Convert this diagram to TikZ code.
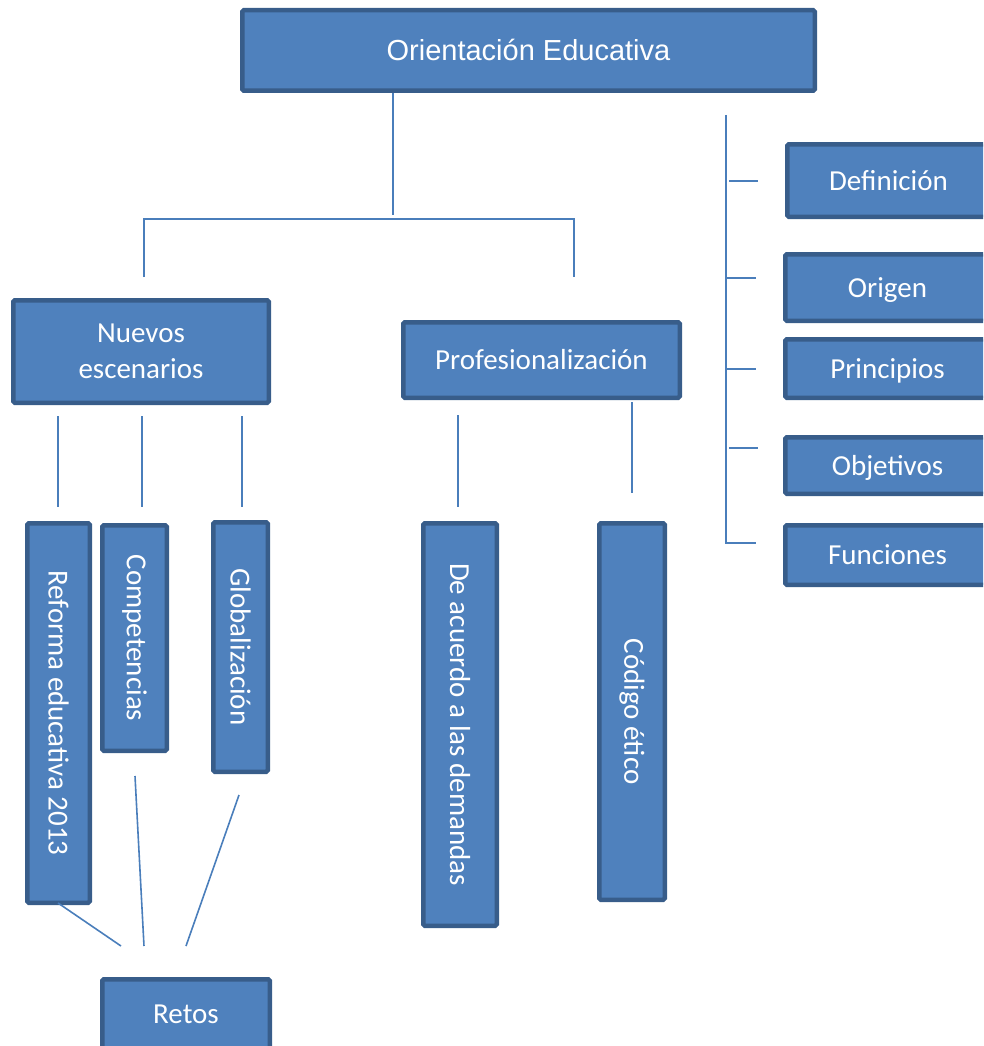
\documentclass[tikz,border=0pt]{standalone}
\usepackage{fontspec}
\setmainfont{Carlito}
\newfontfamily\arialfont{Liberation Sans}
\definecolor{boxfill}{HTML}{4F81BD}
\definecolor{boxline}{HTML}{385D8A}
\definecolor{conn}{HTML}{4A7EBB}
\tikzset{
  box/.style={draw=boxline, fill=boxfill, line width=4.5pt, rounded corners=1.5pt,
    text=white, align=center, inner sep=0pt, font=\fontsize{29}{36}\selectfont},
  oneline/.style={text height=19pt, text depth=0pt},
  conline/.style={draw=conn, line width=1.6pt}
}
\newcommand\mybox[7]{%
  \pgfmathsetmacro\bcx{(#3+#5)/2}%
  \pgfmathsetmacro\bcy{(#4+#6)/2}%
  \pgfmathsetmacro\bw{#5-#3-4.5}%
  \pgfmathsetmacro\bh{#6-#4-4.5}%
  \node[box,#1,minimum width=\bw pt,minimum height=\bh pt] (#2) at (\bcx,\bcy) {#7};}
\begin{document}
\begin{tikzpicture}[x=1pt,y=-1pt]
\useasboundingbox (0,0) rectangle (983,1046);
\clip (0,0) rectangle (983,1046);
% boxes
\mybox{font=\arialfont\fontsize{29}{36}\selectfont,text height=20pt,text depth=0pt}{title}{240}{8}{817}{93}{Orientación Educativa}
\mybox{oneline}{def}{785}{142}{992}{219}{Definición}
\mybox{oneline}{ori}{783}{252}{992}{323}{Origen}
\mybox{oneline}{pri}{783}{337}{992}{400}{Principios}
\mybox{oneline}{obj}{783}{435}{992}{496}{Objetivos}
\mybox{oneline}{fun}{783}{523}{992}{587}{Funciones}
\mybox{}{nue}{11}{298}{271}{405}{Nuevos\\escenarios}
\mybox{oneline}{pro}{401}{320}{682}{400}{Profesionalización}
\mybox{}{ref}{25}{521}{92}{905}{\rotatebox{-90}{Reforma educativa 2013}}
\mybox{}{com}{100}{523}{169}{753}{\rotatebox{-90}{Competencias}}
\mybox{}{glo}{211}{520}{270}{774}{\rotatebox{-90}{Globalización}}
\mybox{}{dea}{421}{521}{499}{928}{\rotatebox{-90}{De acuerdo a las demandas}}
\mybox{}{cod}{597}{521}{667}{902}{\rotatebox{-90}{Código ético}}
\mybox{oneline}{ret}{100}{977}{272}{1051}{Retos}
% coordinates for connector ends
\coordinate (t1) at (393,93);
\coordinate (t2) at (393,215);
\coordinate (hl) at (144,219);
\coordinate (hr) at (574,219);
\coordinate (dl) at (144,277);
\coordinate (dr) at (574,277);
\coordinate (n1a) at (58,416);  \coordinate (n1b) at (58,507);
\coordinate (n2a) at (142,416); \coordinate (n2b) at (142,507);
\coordinate (n3a) at (242,416); \coordinate (n3b) at (242,507);
\coordinate (p1a) at (458,415); \coordinate (p1b) at (458,507);
\coordinate (p2a) at (632,402); \coordinate (p2b) at (632,493);
\coordinate (r1a) at (58,903);  \coordinate (r1b) at (121,946);
\coordinate (r2a) at (135,776); \coordinate (r2b) at (144,946);
\coordinate (r3a) at (239,795); \coordinate (r3b) at (186,946);
\coordinate (vt) at (726,115);
\coordinate (vb) at (726,543);
\coordinate (k1a) at (729,181); \coordinate (k1b) at (758,181);
\coordinate (k2a) at (726,278); \coordinate (k2b) at (756,278);
\coordinate (k3a) at (726,369); \coordinate (k3b) at (756,369);
\coordinate (k4a) at (729,448); \coordinate (k4b) at (758,448);
\coordinate (k5b) at (756,543);
% connectors
\draw[conline] (title.south -| t1) -- (t2);
\draw[conline] (dl) -- (hl) -- (hr) -- (dr);
\draw[conline] (n1a) -- (n1b);
\draw[conline] (n2a) -- (n2b);
\draw[conline] (n3a) -- (n3b);
\draw[conline] (p1a) -- (p1b);
\draw[conline] (p2a) -- (p2b);
\draw[conline] (r1a) -- (r1b);
\draw[conline] (r2a) -- (r2b);
\draw[conline] (r3a) -- (r3b);
\draw[conline] (vt) -- (vb) -- (k5b);
\draw[conline] (k1a) -- (k1b);
\draw[conline] (k2a) -- (k2b);
\draw[conline] (k3a) -- (k3b);
\draw[conline] (k4a) -- (k4b);
\end{tikzpicture}
\end{document}
